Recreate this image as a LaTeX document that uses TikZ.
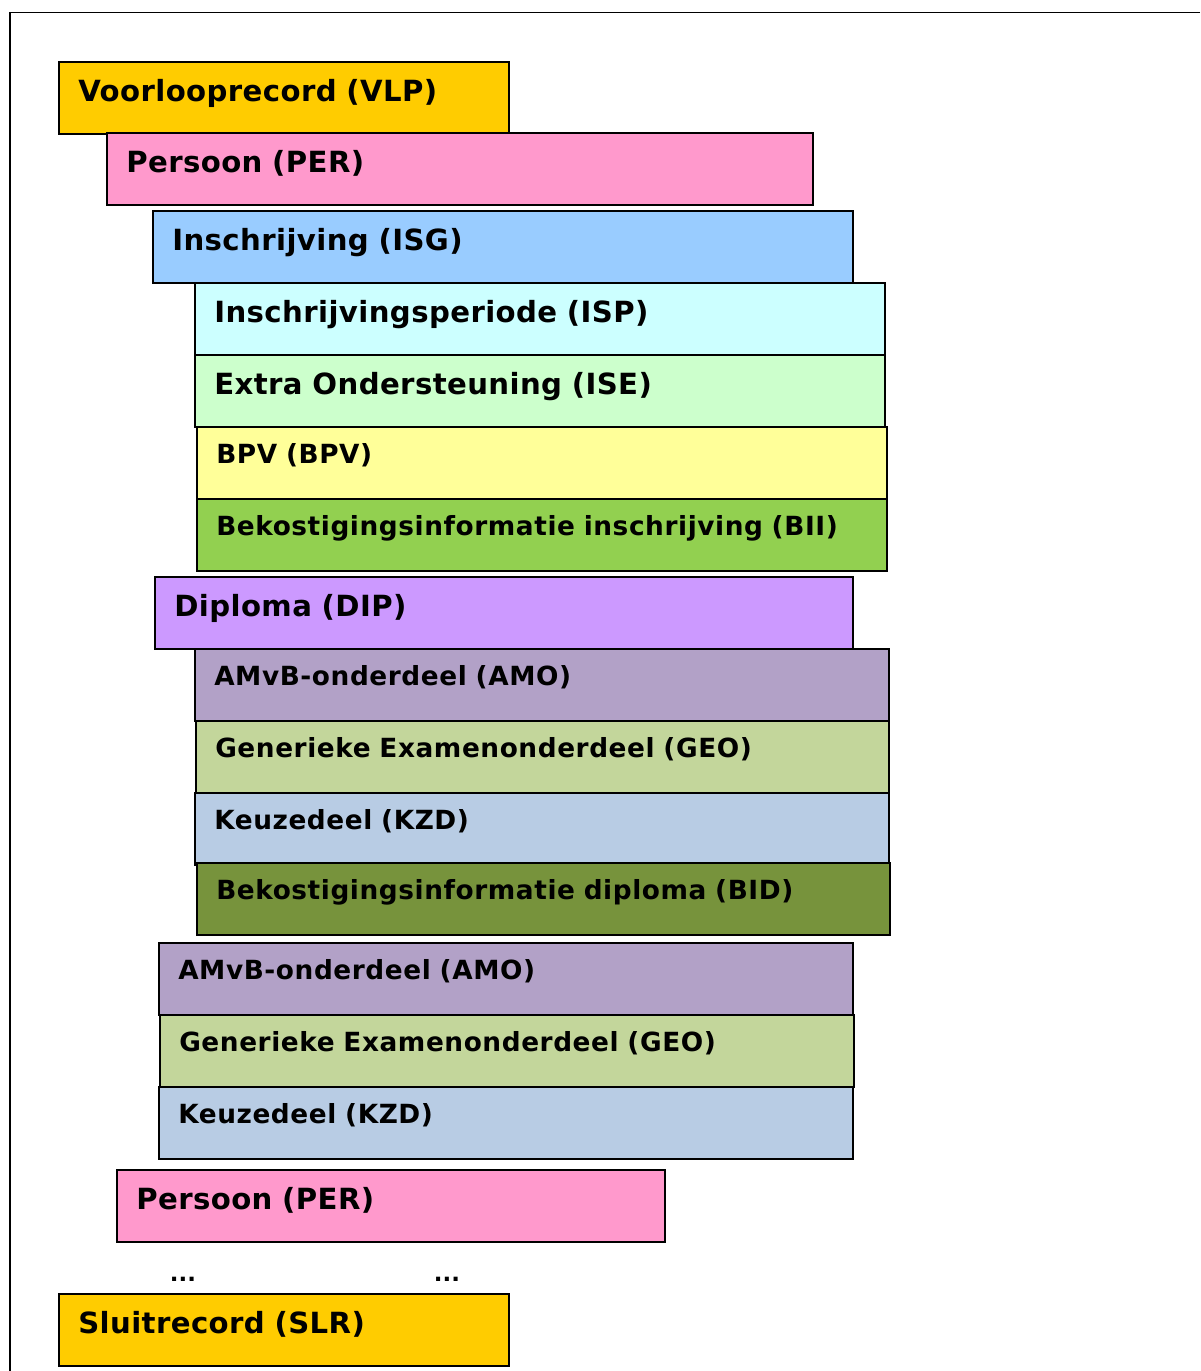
\documentclass[tikz,border=0pt]{standalone}
\usepackage{fontspec}
\setmainfont{DejaVu Sans}
\usepackage{xcolor}
\usepackage{tikz}
\usetikzlibrary{positioning}

\definecolor{vlpc}{HTML}{FFCC00}
\definecolor{perc}{HTML}{FF99CC}
\definecolor{isgc}{HTML}{99CCFF}
\definecolor{ispc}{HTML}{CCFFFF}
\definecolor{isec}{HTML}{CCFFCC}
\definecolor{bpvc}{HTML}{FFFF99}
\definecolor{biic}{HTML}{92D050}
\definecolor{dipc}{HTML}{CC99FF}
\definecolor{amoc}{HTML}{B2A1C7}
\definecolor{geoc}{HTML}{C3D69B}
\definecolor{kzdc}{HTML}{B8CCE4}
\definecolor{bidc}{HTML}{77933C}

\begin{document}
\begin{tikzpicture}[
    x=0.02cm, y=-0.02cm,
    rec/.style={draw, line width=1.1pt, rectangle, anchor=north west, minimum width=#1, text width=#1-22pt, minimum height=1.44cm, inner xsep=11pt, inner ysep=0pt, align=left},
    bigrec/.style={rec=#1, font=\fontsize{16.6}{20}\selectfont\bfseries\addfontfeatures{LetterSpace=1.4}, text height=14pt, text depth=9.45pt},
    smallrec/.style={rec=#1, font=\fontsize{15}{18}\selectfont\bfseries\addfontfeatures{LetterSpace=2.2}, text height=12pt, text depth=10.87pt},
    dots/.style={font=\fontsize{13}{15}\selectfont\bfseries, inner sep=0pt, anchor=base}
]
\useasboundingbox (0,0) rectangle (1200,1371);
\draw[line width=1.1pt] (1200,12.5) -- (10,12.5) -- (10,1371);

% voorloop
\node[bigrec=9cm, fill=vlpc] (vlp) at (58,61) {Voorlooprecord (VLP)};
\node[bigrec=14.12cm, fill=perc] (per) at (106,132) {Persoon (PER)};

% inschrijving
\node[bigrec=14cm, fill=isgc] (isg) at (152,210) {Inschrijving (ISG)};
\node[bigrec=13.8cm, fill=ispc] (isp) at (194,282) {Inschrijvingsperiode (ISP)};
\node[bigrec=13.8cm, fill=isec] (ise) at (194,354) {Extra Ondersteuning (ISE)};
\node[smallrec=13.8cm, fill=bpvc] (bpv) at (196,426) {BPV (BPV)};
\node[smallrec=13.8cm, fill=biic] (bii) at (196,498) {Bekostigingsinformatie inschrijving (BII)};

% diploma
\node[bigrec=13.96cm, fill=dipc] (dip) at (154,576) {Diploma (DIP)};
\node[smallrec=13.88cm, fill=amoc] (amo) at (194,648) {AMvB-onderdeel (AMO)};
\node[smallrec=13.86cm, fill=geoc] (geo) at (195,720) {Generieke Examenonderdeel (GEO)};
\node[smallrec=13.88cm, fill=kzdc] (kzd) at (194,792) {Keuzedeel (KZD)};
\node[smallrec=13.86cm, fill=bidc] (bid) at (196,862) {Bekostigingsinformatie diploma (BID)};

% losse onderdelen
\node[smallrec=13.88cm, fill=amoc] (amob) at (158,942) {AMvB-onderdeel (AMO)};
\node[smallrec=13.88cm, fill=geoc] (geob) at (159,1014) {Generieke Examenonderdeel (GEO)};
\node[smallrec=13.88cm, fill=kzdc] (kzdb) at (158,1086) {Keuzedeel (KZD)};

\node[bigrec=10.96cm, fill=perc] (perb) at (116,1169) {Persoon (PER)};
\node[dots] (dotsl) at (183,1281) {...};
\node[dots] (dotsr) at (447,1281) {...};

% sluit
\node[bigrec=9cm, fill=vlpc] (slr) at (58,1293) {Sluitrecord (SLR)};
\end{tikzpicture}
\end{document}
